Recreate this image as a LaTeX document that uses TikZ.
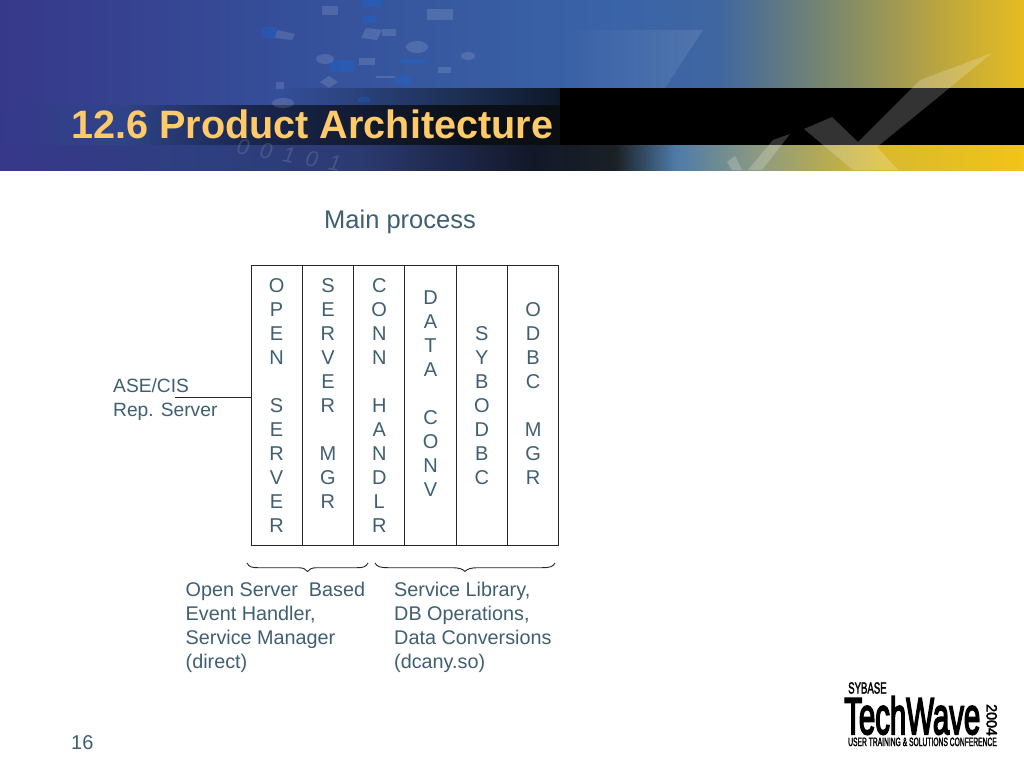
\documentclass[tikz,border=0pt]{standalone}
\usepackage{fontspec}
\setmainfont{Liberation Sans}
\newfontfamily\logofont[FakeBold=2.5]{Liberation Sans}
\newfontfamily\logoheavy[FakeBold=4]{Liberation Sans}
\usetikzlibrary{fadings}
\definecolor{ink}{HTML}{3F5F72}
\definecolor{rulec}{HTML}{262626}
\definecolor{titlec}{HTML}{FFCB69}
\definecolor{a0}{HTML}{37388A}\definecolor{a1}{HTML}{35509A}\definecolor{a2}{HTML}{3A64A8}
\definecolor{a3}{HTML}{3F66A0}\definecolor{a4}{HTML}{7F8A6A}\definecolor{a5}{HTML}{BDA63F}\definecolor{a6}{HTML}{E6BC20}
% bbox spans 25bp..75bp of the shading: bp = 25 + x/1024*50
\pgfdeclarehorizontalshading{skyshade}{100bp}{
 color(0bp)=(a0); color(25bp)=(a0); color(39.6bp)=(a1); color(55.3bp)=(a2); color(60bp)=(a3); color(66bp)=(a4); color(71bp)=(a5); color(75bp)=(a6); color(100bp)=(a6)}
\definecolor{b0}{HTML}{36398A}\definecolor{b1}{HTML}{2F4488}\definecolor{b2}{HTML}{1A2750}\definecolor{b3}{HTML}{0B1018}\definecolor{b4}{HTML}{0A0D10}\definecolor{b5}{HTML}{000000}
\pgfdeclarehorizontalshading{bandshade}{100bp}{
 color(0bp)=(b0); color(25bp)=(b0); color(31bp)=(b1); color(37bp)=(b2); color(47.5bp)=(b3); color(55bp)=(b4); color(62.5bp)=(b5); color(100bp)=(b5)}
\definecolor{c1}{HTML}{2E3F80}\definecolor{c2}{HTML}{2C3A72}\definecolor{c3}{HTML}{121828}\definecolor{c4}{HTML}{1A2024}\definecolor{c5}{HTML}{4F7BA8}\definecolor{c6}{HTML}{8C9A80}\definecolor{c7}{HTML}{D9B92E}\definecolor{c8}{HTML}{F2C416}
\pgfdeclarehorizontalshading{lowshade}{100bp}{
 color(0bp)=(a0); color(25bp)=(a0); color(35bp)=(c1); color(42.5bp)=(c2); color(51bp)=(c3); color(55bp)=(c4); color(58bp)=(c5); color(62bp)=(c6); color(68bp)=(c7); color(75bp)=(c8); color(100bp)=(c8)}
\tikzset{
 body/.style={font=\fontsize{19.8}{24}\selectfont,text=ink,align=left,inner sep=0pt},
 stack/.style={draw=rulec,line width=1pt,minimum width=51.3pt,minimum height=280pt,inner sep=0pt},
 letters/.style={anchor=north,inner sep=0pt,font=\fontsize{20}{24}\selectfont,text=ink,align=center},
 bit/.style={fill=white,opacity=.13},
 bluebit/.style={fill=blue!55!cyan,opacity=.22},
 tick/.style={fill=white,opacity=.2},
 logo/.style={inner sep=0pt,text=black},
 bracec/.style={draw=rulec,line width=.9pt}
}
\begin{document}
\begin{tikzpicture}[x=1pt,y=-1pt]
\useasboundingbox (0,0) rectangle (1024,768);
\fill[white] (0,0) rectangle (1024,768);
% banner
\path[shading=skyshade] (0,0) rectangle (1024,105);
\path[shading=bandshade] (0,105) rectangle (1024,145);
\path[shading=lowshade] (0,145) rectangle (1024,170);
\fill[black,opacity=.75,path fading=west] (280,88) rectangle (560,105);
\fill[black] (560,88) rectangle (1024,145);
\fill[white,opacity=.10,path fading=west] (703,30) -- (665,88) -- (560,88) -- (560,30) -- cycle;
% squares and discs
\fill[bit] (322,6) rectangle (338,15);
\fill[bit] (427,9) rectangle (453,20);
\fill[bluebit] (363,0) rectangle (382,7);
\fill[bluebit] (363,16) rectangle (377,23);
\fill[bit] (382,29) rectangle (396,36);
\fill[bit] (366,28) -- (382,30) -- (377,40) -- (361,38) -- cycle;
\fill[bit] (359,58) rectangle (375,65);
\fill[bluebit] (330,60) rectangle (354,72);
\fill[bluebit] (400,59) rectangle (427,63);
\fill[bit] (438,67) rectangle (451,73);
\fill[bluebit] (395,76) rectangle (411,84);
\fill[bit] (376,76) rectangle (395,78);
\fill[bluebit] (358,97) rectangle (370,102);
\fill[bit] (329,76) -- (338,82) -- (329,88) -- (320,82) -- cycle;
\fill[bit] (417,47) ellipse (11 and 6);
\fill[bit] (468,56) ellipse (7 and 4);
\fill[bit] (325,59) ellipse (9 and 5);
\fill[bit] (283,103) ellipse (11 and 5);
\fill[bluebit] (262,27) rectangle (276,38);
\fill[bit] (277,30) -- (295,34) -- (292,40) -- (275,38) -- cycle;
\fill[bit] (276,82) rectangle (284,89);
\node[rotate=-10,text=white,opacity=.13,inner sep=0pt,font=\itshape\fontsize{22}{22}\selectfont] (bits) at (289,155) {0\,\,\,0\,\,\,1\,\,\,0\,\,\,1};
% check marks
\fill[tick] (992,53) -- (920,80) -- (858,142) -- (832,117) -- (804,129) -- (853,170) -- (898,170) -- (877,147) -- (947,90) -- cycle;
\fill[tick] (790,134) -- (773,140) -- (748,170) -- (762,170) -- cycle;
\fill[tick] (727,162) -- (735,156) -- (742,170) -- (732,170) -- cycle;
\node[anchor=base west,inner sep=0pt,text=titlec,font=\bfseries\fontsize{39.6}{40}\selectfont] (title) at (71,138.5) {12.6 Product Architecture};
% main
\node[anchor=base,inner sep=0pt,text=ink,font=\fontsize{25.5}{30}\selectfont] (main) at (400,228) {Main process};
\node[stack] (c1) at (276.65,405) {};
\node[stack] (c2) at (327.95,405) {};
\node[stack] (c3) at (379.25,405) {};
\node[stack] (c4) at (430.55,405) {};
\node[stack] (c5) at (481.85,405) {};
\node[stack] (c6) at (533.15,405) {};
\node[letters] (t1) at (276.65,278.5) {O\\P\\E\\N\\~\\S\\E\\R\\V\\E\\R};
\node[letters] (t2) at (327.95,278.5) {S\\E\\R\\V\\E\\R\\~\\M\\G\\R};
\node[letters] (t3) at (379.25,278.5) {C\\O\\N\\N\\~\\H\\A\\N\\D\\L\\R};
\node[letters] (t4) at (430.55,290.5) {D\\A\\T\\A\\~\\C\\O\\N\\V};
\node[letters] (t5) at (481.85,326.5) {S\\Y\\B\\O\\D\\B\\C};
\node[letters] (t6) at (533.15,302.5) {O\\D\\B\\C\\~\\M\\G\\R};
\node[body,anchor=north west,font=\fontsize{19.2}{24}\selectfont] (rep) at (113,378) {ASE/CIS\\Rep. Server};
\coordinate (repend) at (175,397);
\draw[rulec,line width=1pt] (repend) -- (repend -| c1.west);
\draw[bracec] (247,563) .. controls (249,567) and (252,567.7) .. (258,567.7) -- (298,567.7) .. controls (303,567.7) and (306,569) .. (307.5,571.5) .. controls (309,569) and (312,567.7) .. (317,567.7) -- (357,567.7) .. controls (363,567.7) and (366,567) .. (368,563);
\draw[bracec] (375,563) .. controls (377,567) and (381,567.7) .. (388,567.7) -- (452,567.7) .. controls (459,567.7) and (463,569) .. (465,571.5) .. controls (467,569) and (471,567.7) .. (478,567.7) -- (542,567.7) .. controls (549,567.7) and (553,567) .. (555,563);
\node[body,anchor=north west] (left) at (185.5,582) {Open Server\ \ Based\\Event Handler,\\Service Manager\\(direct)};
\node[body,anchor=north west] (right) at (394,582) {Service Library,\\DB Operations,\\Data Conversions\\(dcany.so)};
\node[anchor=base west,inner sep=0pt,text=ink,font=\fontsize{20}{24}\selectfont] (page) at (71,749) {16};
% logo
\node[logo,anchor=base west] (sy) at (848,693.5) {\scalebox{.6}[1]{\logofont\fontsize{16}{16}\selectfont SYBASE}};
\node[logo,anchor=base west] (tw) at (844,734) {\scalebox{.612}[1.08]{\logoheavy\fontsize{48}{48}\selectfont TechWave}};
\node[logo,anchor=base west,rotate=-90] (yr) at (986.5,704) {\scalebox{.95}[1]{\logofont\fontsize{15}{15}\selectfont 2004}};
\node[logo,anchor=base west] (tag) at (848,746) {\scalebox{.56}[1]{\logofont\fontsize{12}{12}\selectfont USER TRAINING \& SOLUTIONS CONFERENCE}};
\end{tikzpicture}
\end{document}
